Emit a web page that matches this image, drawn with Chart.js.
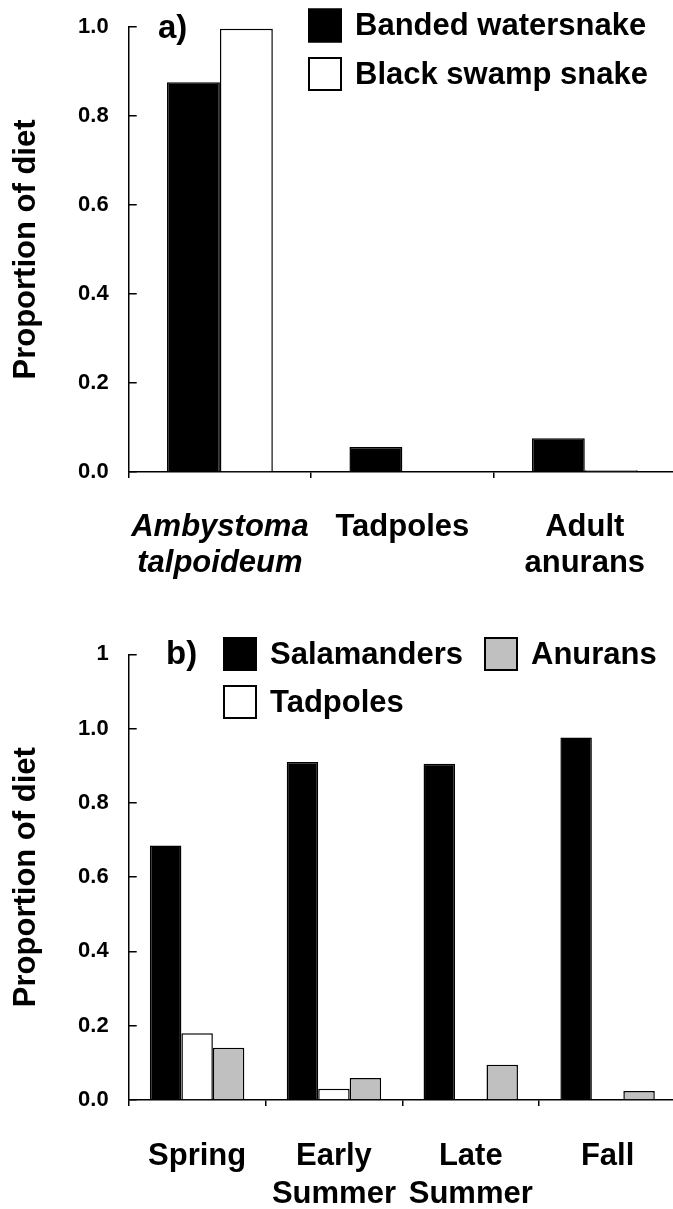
<!DOCTYPE html>
<html><head><meta charset="utf-8">
<script src="https://cdn.jsdelivr.net/npm/chart.js@4/dist/chart.umd.min.js"></script>
<style>
html,body{margin:0;padding:0;background:#fff;overflow:hidden;width:673px;height:1209px;position:relative;}
.wrap{position:absolute;left:0;width:676px;}
</style></head><body>
<div class="wrap" style="top:0;height:600px"><canvas id="chartA"></canvas></div>
<div class="wrap" style="top:600px;height:609px"><canvas id="chartB"></canvas></div>
<script>
// ---- data: panel a ----
const categoriesA = [["Ambystoma","talpoideum"], "Tadpoles", ["Adult","anurans"]];
const bandedWatersnake = [0.876, 0.056, 0.076];
const blackSwampSnake  = [0.996, 0, 0.004];
const yTickLabelsA = ["0.0","0.2","0.4","0.6","0.8","1.0"];

// ---- data: panel b ----
const categoriesB = ["Spring", ["Early","Summer"], ["Late","Summer"], "Fall"];
const salamanders = [0.685, 0.910, 0.905, 0.976];
const tadpoles    = [0.180, 0.030, 0, 0];
const anurans     = [0.141, 0.059, 0.095, 0.024];
const yTickLabelsB = ["0.0","0.2","0.4","0.6","0.8","1.0","1"];

const FAM = '"Liberation Sans", Arial, Helvetica, sans-serif';

const boxLegend = {
  id: 'boxLegend',
  afterDraw(chart, args, o) {
    const ctx = chart.ctx;
    ctx.save();
    chart.data.datasets.forEach((ds, i) => {
      const p = o.items[i];
      ctx.fillStyle = ds.backgroundColor;
      ctx.fillRect(p.x, p.y, o.box, o.box);
      ctx.lineWidth = o.lineWidth;
      ctx.strokeStyle = '#000';
      ctx.strokeRect(p.x + o.lineWidth / 2, p.y + o.lineWidth / 2, o.box - o.lineWidth, o.box - o.lineWidth);
      ctx.fillStyle = '#000';
      ctx.font = 'bold ' + o.fontSize + 'px ' + FAM;
      ctx.textBaseline = 'middle';
      ctx.textAlign = 'left';
      ctx.fillText(ds.label, p.x + o.box + o.gap, p.y + o.box / 2 + 1);
    });
    ctx.font = 'bold ' + o.panelSize + 'px ' + FAM;
    ctx.textBaseline = 'alphabetic';
    ctx.fillStyle = '#000';
    ctx.fillText(o.panel, o.panelX, o.panelY);
    ctx.restore();
  }
};

function makeOptions(cfg) {
  return {
    responsive: true,
    maintainAspectRatio: false,
    animation: false,
    layout: { padding: { top: cfg.top, left: 0, right: 0, bottom: 0 } },
    plugins: {
      legend: { display: false },
      tooltip: { enabled: false },
      boxLegend: cfg.legend
    },
    datasets: { bar: { categoryPercentage: cfg.catPct, barPercentage: 1.0, borderWidth: 1.5, borderColor: '#000' } },
    scales: {
      x: {
        grid: { display: true, drawOnChartArea: false, drawTicks: true, tickLength: 6, color: '#000', lineWidth: 1.5, offset: true },
        border: { display: true, color: '#000', width: 1.5 },
        ticks: {
          color: '#000', maxRotation: 0, minRotation: 0, autoSkip: false, padding: cfg.xPad,
          font: (c) => ({ family: FAM, size: 31, weight: 'bold', lineHeight: cfg.xLine,
                          style: (cfg.italicFirst && c.index === 0) ? 'italic' : 'normal' })
        },
        afterFit: (s) => { s.height = cfg.xHeight; s.paddingLeft = 0; s.paddingRight = 0; }
      },
      y: {
        min: 0, max: cfg.yMax,
        grid: { display: true, drawOnChartArea: false, drawTicks: true, tickLength: -8, color: '#000', lineWidth: 1.5 },
        border: { display: true, color: '#000', width: 1.5 },
        ticks: {
          stepSize: 0.2, color: '#000', padding: 28,
          font: { family: FAM, size: 22, weight: 'bold' },
          callback: (v, i) => cfg.yLabels[i]
        },
        title: { display: true, text: 'Proportion of diet', color: '#000',
                 font: { family: FAM, size: 31, weight: 'bold' }, padding: { top: 8, bottom: 0 } },
        afterFit: (s) => { s.width = 128.7; s.paddingTop = 0; s.paddingBottom = 0; }
      }
    }
  };
}

new Chart(document.getElementById('chartA'), {
  type: 'bar',
  data: {
    labels: categoriesA,
    datasets: [
      { label: 'Banded watersnake', data: bandedWatersnake, backgroundColor: '#000000' },
      { label: 'Black swamp snake', data: blackSwampSnake, backgroundColor: '#ffffff' }
    ]
  },
  options: makeOptions({
    top: 27, yMax: 1.0, yLabels: yTickLabelsA, catPct: 0.58, xPad: 31, xLine: 1.17,
    xHeight: 128, italicFirst: true,
    legend: { items: [{x: 308, y: 8.5}, {x: 308, y: 57}], box: 34, gap: 13, lineWidth: 2,
              fontSize: 31, panel: 'a)', panelSize: 33, panelX: 158, panelY: 38 }
  }),
  plugins: [boxLegend]
});

new Chart(document.getElementById('chartB'), {
  type: 'bar',
  data: {
    labels: categoriesB,
    datasets: [
      { label: 'Salamanders', data: salamanders, backgroundColor: '#000000' },
      { label: 'Tadpoles', data: tadpoles, backgroundColor: '#ffffff' },
      { label: 'Anurans', data: anurans, backgroundColor: '#c0c0c0' }
    ]
  },
  options: makeOptions({
    top: 54.3, yMax: 1.2, yLabels: yTickLabelsB, catPct: 0.69, xPad: 32, xLine: 1.21,
    xHeight: 109, italicFirst: false,
    legend: { items: [{x: 223, y: 37}, {x: 223, y: 85}, {x: 484, y: 37}], box: 34, gap: 13, lineWidth: 2,
              fontSize: 31, panel: 'b)', panelSize: 33, panelX: 166, panelY: 64 }
  }),
  plugins: [boxLegend]
});
</script>
</body></html>
